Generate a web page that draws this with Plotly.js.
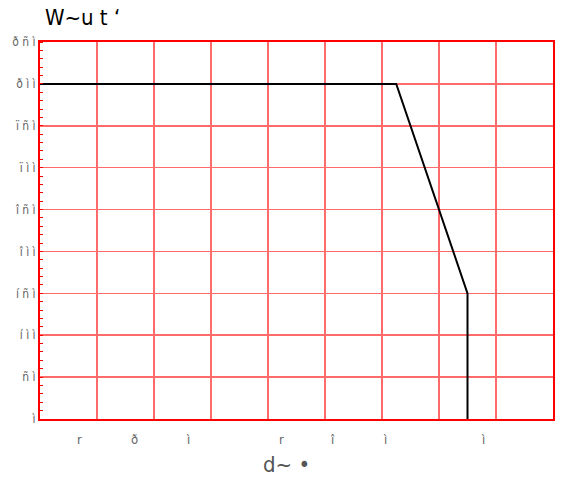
<!DOCTYPE html>
<html>
<head>
<meta charset="utf-8">
<script src="https://cdn.plot.ly/plotly-3.0.1.min.js"></script>
<style>html,body{margin:0;padding:0;background:#fff;}#chart{width:561px;height:477px;}</style>
</head>
<body>
<div id="chart"></div>
<script>
// Data
const curveX = [-40, 85, 110, 110];
const curveY = [400, 400, 150, 0];

// Tick labels as they appear in the reference
const yTickVals = [0, 50, 100, 150, 200, 250, 300, 350, 400, 450];
const yTickText = ['ì', 'ñ ì', 'í ì ì', 'í ñ ì', 'î ì ì', 'î ñ ì', 'ï ì ì', 'ï ñ ì', 'ð ì ì', 'ð ñ ì'];
const xLabelVals = [-26, -6.7, 11.9, 44.9, 62.5, 81, 115.4];
const xLabelText = ['r', 'ð', 'ì', 'r', 'î', 'ì', 'ì'];

const titleText = 'W~u t ‘';
const xTitleText = 'd~ •';

const FONT = '"Liberation Sans Narrow", "DejaVu Sans Condensed", Arial, sans-serif';
const GRID = '#ff6a6a';

const traces = [
  {x: curveX, y: curveY, type: 'scatter', mode: 'lines',
   line: {color: '#000', width: 2}, showlegend: false, hoverinfo: 'skip'}
];

const annotations = xLabelVals.map((v, i) => ({
  x: v, xref: 'x', y: -0.055, yref: 'paper', yanchor: 'middle', xanchor: 'center',
  text: xLabelText[i], showarrow: false,
  font: {family: FONT, size: 13, color: '#666'}
}));
annotations.push({
  x: 0.48, xref: 'paper', y: -0.12, yref: 'paper', yanchor: 'middle', xanchor: 'center',
  text: xTitleText, showarrow: false,
  font: {family: FONT, size: 22, color: '#555'}
});

const layout = {
  width: 561, height: 477,
  margin: {l: 40, r: 8, t: 42, b: 58},
  paper_bgcolor: '#fff', plot_bgcolor: '#fff',
  font: {family: FONT, color: '#444', size: 12},
  title: {text: titleText, x: 0.08, xanchor: 'left', y: 0.963, yanchor: 'middle',
          font: {family: FONT, size: 22, color: '#000'}},
  annotations: annotations,
  xaxis: {
    range: [-40, 140], dtick: 20, tick0: -40,
    showticklabels: false, ticks: '',
    showgrid: true, gridcolor: GRID, gridwidth: 1.5,
    showline: true, linecolor: '#ff0000', linewidth: 2, mirror: true,
    zeroline: false
  },
  yaxis: {
    range: [0, 450],
    tickmode: 'array', tickvals: yTickVals, ticktext: yTickText,
    ticks: '',
    showgrid: true, gridcolor: GRID, gridwidth: 1.5,
    showline: true, linecolor: '#ff0000', linewidth: 2, mirror: true,
    zeroline: false,
    tickfont: {family: FONT, size: 12, color: '#666'},
    minor: {dtick: 10, ticks: 'inside', ticklen: 3, tickcolor: '#ff0000', showgrid: false}
  }
};

Plotly.newPlot('chart', traces, layout, {displayModeBar: false, staticPlot: true});
</script>
</body>
</html>
